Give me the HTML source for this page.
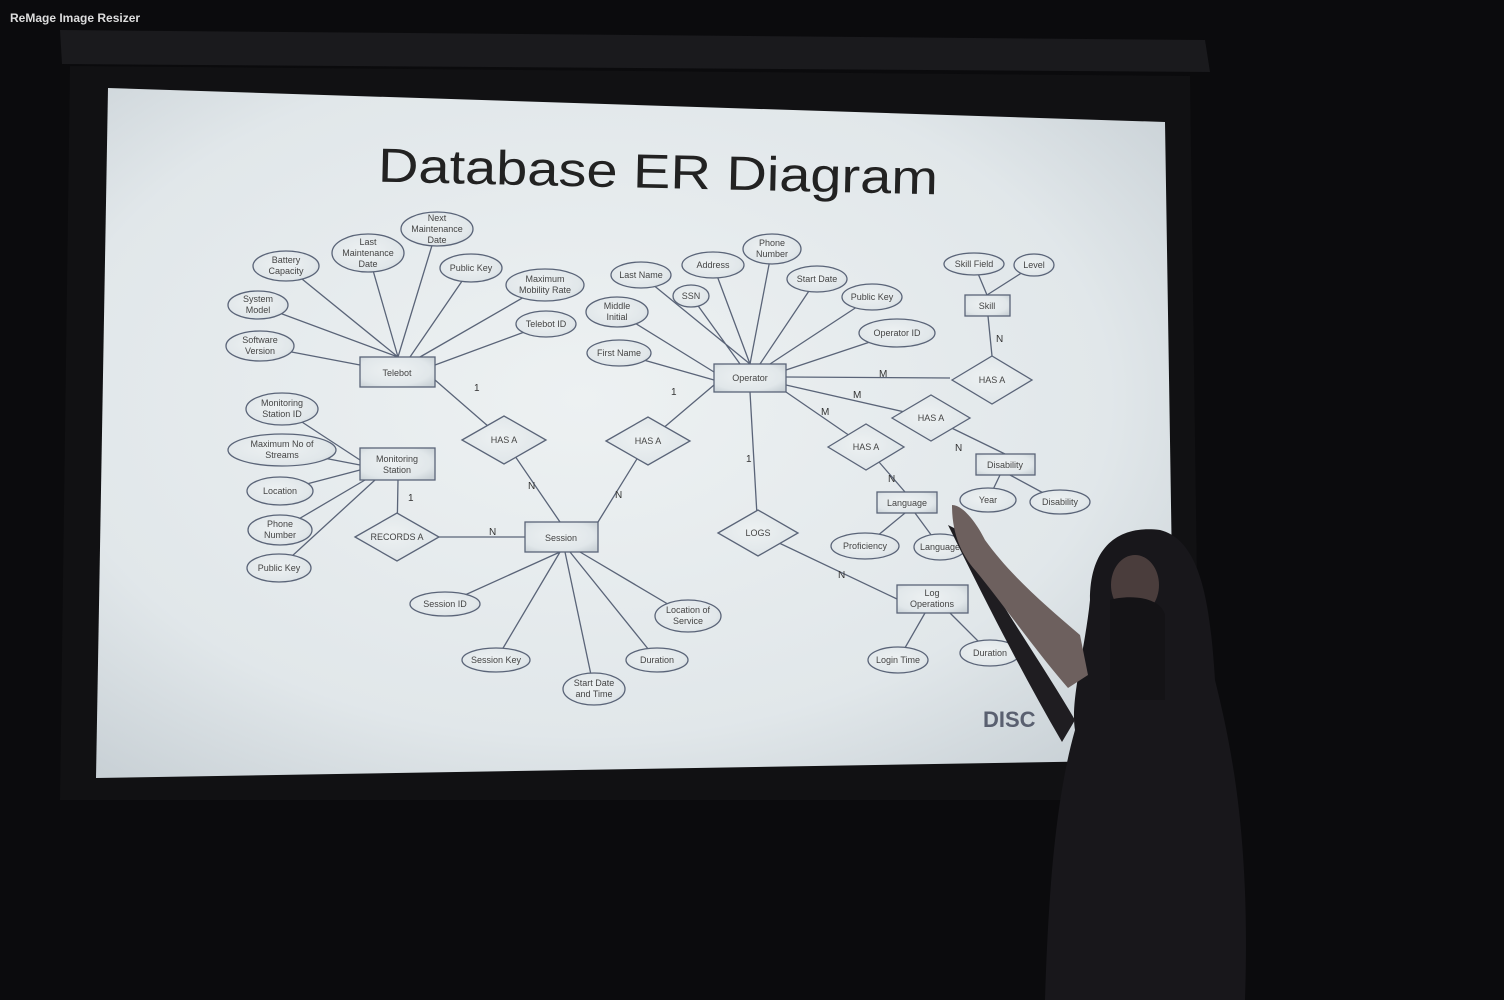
<!DOCTYPE html>
<html><head><meta charset="utf-8"><style>
html,body{margin:0;padding:0;background:#0b0b0d;width:1504px;height:1000px;overflow:hidden}
svg{display:block}
</style></head><body>
<svg width="1504" height="1000" viewBox="0 0 1504 1000" xmlns="http://www.w3.org/2000/svg" font-family="Liberation Sans, sans-serif">
<defs>
<radialGradient id="scr" cx="0.45" cy="0.45" r="0.7">
<stop offset="0" stop-color="#edf1f2"/><stop offset="0.7" stop-color="#e1e7ea"/><stop offset="1" stop-color="#c9d1d6"/>
</radialGradient>
</defs>
<rect width="1504" height="1000" fill="#0b0b0d"/>
<polygon points="60,30 1205,40 1210,72 62,64" fill="#1a1a1d"/>
<polygon points="70,66 1190,76 1200,800 60,800" fill="#111113"/>
<polygon points="108,88 1165,122 1175,760 96,778" fill="url(#scr)"/>
<text x="10" y="22" font-size="12" font-weight="bold" fill="#ddd">ReMage Image Resizer</text>
<text x="378" y="188" font-size="48" fill="#222" textLength="560" lengthAdjust="spacingAndGlyphs" transform="rotate(1.3 660 172)">Database ER Diagram</text>
<g stroke="#5a6478" stroke-width="1.3" fill="none">
<path d="M398,357 L286,266 M398,357 L258,305 M360,365 L260,346 M398,357 L368,253 M398,357 L437,229 M410,357 L471,268 M420,357 L545,285 M435,365 L546,324 M435,380 L504,440 M504,440 L560,522"/>
<path d="M360,460 L282,409 M360,465 L282,450 M360,470 L280,491 M365,480 L280,530 M375,480 L279,568 M398,480 L397,537 M439,537 L525,537"/>
<path d="M598,522 L648,441 M648,441 L714,385"/>
<path d="M560,552 L445,604 M560,552 L496,660 M565,552 L594,689 M570,552 L657,660 M580,552 L688,616"/>
<path d="M750,364 L641,275 M750,364 L713,265 M750,364 L772,249 M760,364 L817,279 M770,364 L872,297 M786,370 L897,333 M740,364 L691,296 M714,372 L617,312 M714,380 L619,353"/>
<path d="M786,377 L950,378 M750,392 L758,533 M758,533 L897,599 M786,392 L866,447 M866,447 L905,492 M786,385 L931,418 M931,418 L1005,454 M992,356 L988,316 M987,295 L974,264 M987,295 L1034,265"/>
<path d="M905,513 L865,546 M915,513 L940,547 M1000,475 L988,500 M1010,475 L1060,502 M925,613 L898,660 M950,613 L990,653"/>
</g>
<g stroke="#5a6478" stroke-width="1.3" fill="url(#scr)">
<rect x="360" y="357" width="75" height="30"/><rect x="360" y="448" width="75" height="32"/><rect x="525" y="522" width="73" height="30"/>
<rect x="714" y="364" width="72" height="28"/><rect x="897" y="585" width="71" height="28"/><rect x="877" y="492" width="60" height="21"/>
<rect x="976" y="454" width="59" height="21"/><rect x="965" y="295" width="45" height="21"/>
<polygon points="462,440 504,416 546,440 504,464"/><polygon points="606,441 648,417 690,441 648,465"/>
<polygon points="355,537 397,513 439,537 397,561"/><polygon points="718,533 758,510 798,533 758,556"/>
<polygon points="828,447 866,424 904,447 866,470"/><polygon points="892,418 931,395 970,418 931,441"/>
<polygon points="952,380 992,356 1032,380 992,404"/>
<g>
<ellipse cx="286" cy="266" rx="33" ry="15"/><ellipse cx="258" cy="305" rx="30" ry="14"/><ellipse cx="260" cy="346" rx="34" ry="15"/>
<ellipse cx="368" cy="253" rx="36" ry="19"/><ellipse cx="437" cy="229" rx="36" ry="17"/><ellipse cx="471" cy="268" rx="31" ry="14"/>
<ellipse cx="545" cy="285" rx="39" ry="16"/><ellipse cx="546" cy="324" rx="30" ry="13"/>
<ellipse cx="282" cy="409" rx="36" ry="16"/><ellipse cx="282" cy="450" rx="54" ry="16"/><ellipse cx="280" cy="491" rx="33" ry="14"/>
<ellipse cx="280" cy="530" rx="32" ry="15"/><ellipse cx="279" cy="568" rx="32" ry="14"/>
<ellipse cx="445" cy="604" rx="35" ry="12"/><ellipse cx="496" cy="660" rx="34" ry="12"/><ellipse cx="594" cy="689" rx="31" ry="16"/>
<ellipse cx="657" cy="660" rx="31" ry="12"/><ellipse cx="688" cy="616" rx="33" ry="16"/>
<ellipse cx="641" cy="275" rx="30" ry="13"/><ellipse cx="713" cy="265" rx="31" ry="13"/><ellipse cx="772" cy="249" rx="29" ry="15"/>
<ellipse cx="817" cy="279" rx="30" ry="13"/><ellipse cx="872" cy="297" rx="30" ry="13"/><ellipse cx="897" cy="333" rx="38" ry="14"/>
<ellipse cx="691" cy="296" rx="18" ry="11"/><ellipse cx="617" cy="312" rx="31" ry="15"/><ellipse cx="619" cy="353" rx="32" ry="13"/>
<ellipse cx="898" cy="660" rx="30" ry="13"/><ellipse cx="990" cy="653" rx="30" ry="13"/>
<ellipse cx="865" cy="546" rx="34" ry="13"/><ellipse cx="940" cy="547" rx="26" ry="13"/>
<ellipse cx="988" cy="500" rx="28" ry="12"/><ellipse cx="1060" cy="502" rx="30" ry="12"/>
<ellipse cx="974" cy="264" rx="30" ry="11"/><ellipse cx="1034" cy="265" rx="20" ry="11"/>
</g>
</g>
<g font-size="9" fill="#444" text-anchor="middle">
<text x="397" y="376">Telebot</text><text x="397" y="462">Monitoring</text><text x="397" y="473">Station</text><text x="561" y="541">Session</text>
<text x="750" y="381">Operator</text><text x="932" y="596">Log</text><text x="932" y="607">Operations</text><text x="907" y="506">Language</text>
<text x="1005" y="468">Disability</text><text x="987" y="309">Skill</text>
<text x="504" y="443">HAS A</text><text x="648" y="444">HAS A</text><text x="397" y="540">RECORDS A</text><text x="758" y="536">LOGS</text>
<text x="866" y="450">HAS A</text><text x="931" y="421">HAS A</text><text x="992" y="383">HAS A</text>
<text x="286" y="263">Battery</text><text x="286" y="274">Capacity</text><text x="258" y="302">System</text><text x="258" y="313">Model</text>
<text x="260" y="343">Software</text><text x="260" y="354">Version</text><text x="368" y="245">Last</text><text x="368" y="256">Maintenance</text><text x="368" y="267">Date</text>
<text x="437" y="221">Next</text><text x="437" y="232">Maintenance</text><text x="437" y="243">Date</text><text x="471" y="271">Public Key</text>
<text x="545" y="282">Maximum</text><text x="545" y="293">Mobility Rate</text><text x="546" y="327">Telebot ID</text>
<text x="282" y="406">Monitoring</text><text x="282" y="417">Station ID</text><text x="282" y="447">Maximum No of</text><text x="282" y="458">Streams</text>
<text x="280" y="494">Location</text><text x="280" y="527">Phone</text><text x="280" y="538">Number</text><text x="279" y="571">Public Key</text>
<text x="445" y="607">Session ID</text><text x="496" y="663">Session Key</text><text x="594" y="686">Start Date</text><text x="594" y="697">and Time</text>
<text x="657" y="663">Duration</text><text x="688" y="613">Location of</text><text x="688" y="624">Service</text>
<text x="641" y="278">Last Name</text><text x="713" y="268">Address</text><text x="772" y="246">Phone</text><text x="772" y="257">Number</text>
<text x="817" y="282">Start Date</text><text x="872" y="300">Public Key</text><text x="897" y="336">Operator ID</text><text x="691" y="299">SSN</text>
<text x="617" y="309">Middle</text><text x="617" y="320">Initial</text><text x="619" y="356">First Name</text>
<text x="898" y="663">Login Time</text><text x="990" y="656">Duration</text><text x="865" y="549">Proficiency</text><text x="940" y="550">Language</text>
<text x="988" y="503">Year</text><text x="1060" y="505">Disability</text><text x="974" y="267">Skill Field</text><text x="1034" y="268">Level</text>
</g>
<g font-size="10" fill="#333">
<text x="474" y="391">1</text><text x="528" y="489">N</text><text x="408" y="501">1</text><text x="489" y="535">N</text>
<text x="615" y="498">N</text><text x="671" y="395">1</text><text x="746" y="462">1</text><text x="838" y="578">N</text>
<text x="879" y="377">M</text><text x="853" y="398">M</text><text x="821" y="415">M</text><text x="888" y="482">N</text>
<text x="955" y="451">N</text><text x="996" y="342">N</text>
</g>
<text x="983" y="727" font-size="22" font-weight="bold" fill="#5a6070">DISC</text>
<!-- person -->
<path d="M1090,600 C1090,545 1120,525 1160,530 C1200,540 1210,600 1215,680 C1235,760 1250,850 1245,1000 L1045,1000 C1048,900 1055,800 1075,730 C1070,700 1085,650 1090,600 Z" fill="#18171b"/>
<path d="M948,525 L962,532 C990,590 1040,660 1075,720 L1062,742 C1020,670 980,590 948,525 Z" fill="#1f1d21"/>
<path d="M952,505 C962,505 975,520 985,540 C1010,575 1045,605 1080,635 L1088,675 L1068,688 C1035,650 1000,600 975,570 C962,555 952,535 952,505 Z" fill="#6d605e"/>
<ellipse cx="1135" cy="585" rx="24" ry="30" fill="#4a3d3c"/>
<path d="M1110,600 C1125,595 1160,595 1165,615 L1165,700 L1110,700 Z" fill="#141316"/>
</svg>
</body></html>
